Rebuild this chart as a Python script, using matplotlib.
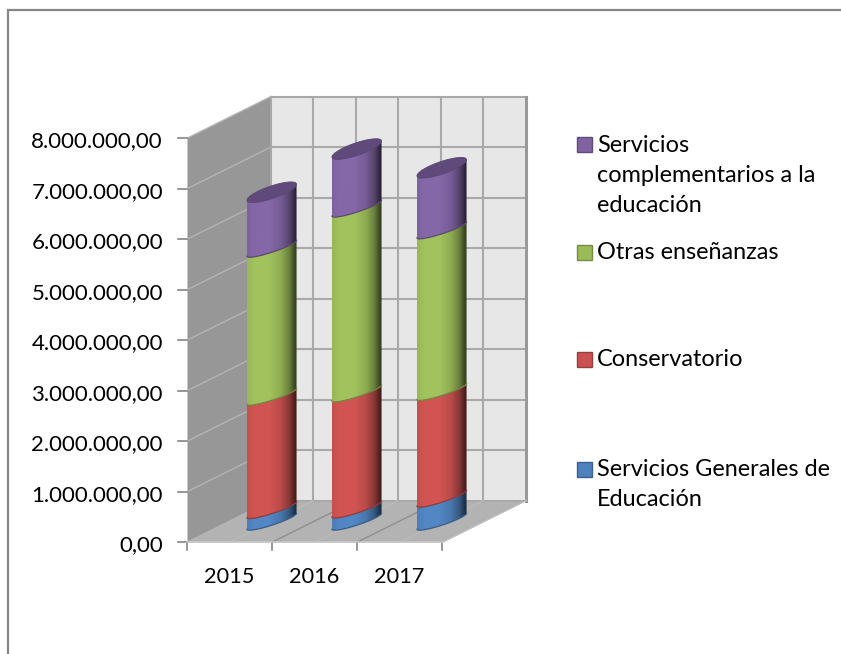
import numpy as np
import matplotlib
matplotlib.use('Agg')
import matplotlib.pyplot as plt
from matplotlib.colors import LinearSegmentedColormap, to_rgb
from matplotlib.patches import Polygon, Rectangle

plt.rcParams['font.family'] = ['Lato', 'DejaVu Sans']

years = ['2015', '2016', '2017']
servicios_generales = [230000, 240000, 455000]
conservatorio = [2245000, 2300000, 2115000]
otras_ensenanzas = [2930000, 3660000, 3200000]
complementarios = [1110000, 1170000, 1230000]

series_names = ['Servicios Generales de\nEducación', 'Conservatorio',
                'Otras enseñanzas', 'Servicios\ncomplementarios a la\neducación']
series_values = [servicios_generales, conservatorio, otras_ensenanzas, complementarios]
series_colors = ['#4F81BD', '#C9514F', '#9BBB59', '#8064A2']
y_ticks = [0, 1000000, 2000000, 3000000, 4000000, 5000000, 6000000, 7000000, 8000000]

# oblique box, in pixels of the 841x654 picture
X0, Y0 = 187.5, 542.0     # front corner of the axes at value 0
CAT_W = 85.0
PX_PER_UNIT = 404.0 / 8000000
DX, DY = 83.5, -41.5      # full depth shift


def proj(cat, val=0, depth=0.0):
    return (X0 + cat * CAT_W + depth * DX, Y0 - val * PX_PER_UNIT + depth * DY)


fig = plt.figure(figsize=(8.41, 6.54), dpi=100, facecolor='white')
ax = fig.add_axes([0, 0, 1, 1])
ax.set_xlim(0, 841)
ax.set_ylim(654, 0)
ax.axis('off')

# chart area frame, only top and left are in the picture
ax.plot([8.5, 8.5, 841], [654, 9.5, 9.5], color='#868686', lw=1.6, zorder=1,
        solid_joinstyle='miter')

n = len(years)
top = y_ticks[-1]

# walls and floor
ax.add_patch(Polygon([proj(0, 0, 1), proj(n, 0, 1), proj(n, top, 1), proj(0, top, 1)],
                     fc='#E7E7E7', ec='none', zorder=2))
ax.add_patch(Polygon([proj(0, 0, 0), proj(0, 0, 1), proj(0, top, 1), proj(0, top, 0)],
                     fc='#979797', ec='none', zorder=2))
ax.add_patch(Polygon([proj(0, 0, 0), proj(n, 0, 0), proj(n, 0, 1), proj(0, 0, 1)],
                     fc='#B3B3B3', ec='none', zorder=2))

grid = '#A9A9A9'
for v in y_ticks:
    a, b, c = proj(0, v, 0), proj(0, v, 1), proj(n, v, 1)
    ax.plot([b[0], c[0]], [b[1], c[1]], color=grid, lw=1.5, zorder=3)
    ax.plot([a[0], b[0]], [a[1], b[1]], color='#B4B4B4', lw=1.0, zorder=3)
    ax.plot([a[0] - 9, a[0]], [a[1], a[1]], color='#868686', lw=1.2, zorder=3)
    ax.text(163, a[1] + 9.5, f'{v:,.2f}'.replace(',', 'X').replace('.', ',').replace('X', '.'),
            ha='right', va='baseline', fontsize=16, color='black', zorder=6)

for k in np.arange(0, n + 0.5, 0.5):
    a, b = proj(k, 0, 1), proj(k, top, 1)
    ax.plot([a[0], b[0]], [a[1], b[1]], color='#999999' if k == n else grid,
            lw=2.2 if k == n else 1.5, zorder=3)
    f = proj(k, 0, 0)
    whole = float(k).is_integer()
    if k > 0:
        ax.plot([f[0], a[0]], [f[1], a[1]], color='#8F8F8F' if whole else '#BDBDBD',
                lw=1.0 if whole else 0.7, zorder=3)
    if whole:
        ax.plot([f[0], f[0]], [f[1], f[1] + 8], color='#868686', lw=1.2, zorder=3)
    else:
        ax.text(f[0] - 0.5, 582.7, years[int(k)], ha='center', va='baseline',
                fontsize=15.7, color='black', zorder=6)
a, b = proj(0, 0, 0), proj(n, 0, 0)
ax.plot([a[0], b[0]], [a[1], b[1]], color='#C4C4C4', lw=1.2, zorder=3)
ax.plot([b[0], proj(n, 0, 1)[0]], [b[1], proj(n, 0, 1)[1]], color='#C4C4C4', lw=1.0, zorder=3)

# cylinders
R_X, SKEW, R_Y, CAP_R_Y = 24.8, 8.0, 4.0, 6.5
t = np.linspace(0, 2 * np.pi, 121)
stops = [(0.0, 0.98), (0.15, 1.04), (0.45, 1.04), (0.68, 0.92), (0.85, 0.68), (0.95, 0.40), (1.0, 0.30)]


def ell(cx, cy, tt, ry=R_Y):
    return cx + R_X * np.cos(tt), cy - SKEW * np.cos(tt) - ry * np.sin(tt)


def shaded(color):
    rgb = np.array(to_rgb(color))
    return LinearSegmentedColormap.from_list(
        'cyl', [(p, tuple(np.clip(rgb * m, 0, 1))) for p, m in stops])


for i in range(n):
    cx, base_y = proj(i + 0.5, 0, 0.5)
    bottom = 0
    for s, vals in enumerate(series_values):
        y_low = base_y - bottom * PX_PER_UNIT
        y_high = base_y - (bottom + vals[i]) * PX_PER_UNIT
        front = np.linspace(np.pi, 2 * np.pi, 61)
        xl, yl = ell(cx, y_low, front)
        xh, yh = ell(cx, y_high, front[::-1])
        pts = np.column_stack([np.r_[xl, xh], np.r_[yl, yh]])
        poly = Polygon(pts, fc='none', ec='none', zorder=4 + 0.01 * s)
        ax.add_patch(poly)
        grad = np.linspace(0, 1, 256)[None, :]
        im = ax.imshow(grad, cmap=shaded(series_colors[s]), aspect='auto',
                       extent=(cx - R_X, cx + R_X, pts[:, 1].max(), pts[:, 1].min()),
                       zorder=4 + 0.01 * s, interpolation='bilinear')
        im.set_clip_path(poly)
        rgb = np.array(to_rgb(series_colors[s]))
        ax.plot(xl, yl, color=tuple(rgb * 0.72), lw=0.9, zorder=4.05 + 0.01 * s)
        bottom += vals[i]
    # top cap
    y_top = base_y - bottom * PX_PER_UNIT
    xt, yt = ell(cx, y_top, t, CAP_R_Y)
    ax.add_patch(Polygon(np.column_stack([xt, yt]), fc='#5F4A7B', ec='#5A4674', lw=0.6, zorder=4.2))

ax.set_xlim(0, 841)
ax.set_ylim(654, 0)

# legend, top entry is the last series
legend_baseline = [151.7, 259.3, 366, 476]
for name, color, base in zip(series_names[::-1], series_colors[::-1], legend_baseline):
    ax.add_patch(Rectangle((577, base - 14.5), 15, 15, fc=color,
                           ec=tuple(np.array(to_rgb(color)) * 0.75), lw=1.0, zorder=6))
    for j, line in enumerate(name.split('\n')):
        ax.text(597, base + j * 30.3, line, ha='left', va='baseline', fontsize=16.9, zorder=6)

fig.savefig('out.png', dpi=100)
